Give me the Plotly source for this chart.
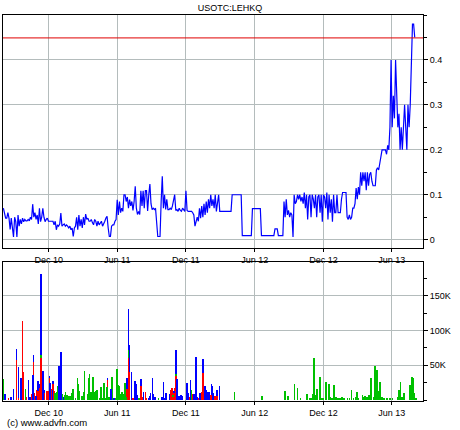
import pandas as pd
import plotly.graph_objects as go

# ---------------- data ----------------
title_text = "USOTC:LEHKQ"
footer_text = "(c) www.advfn.com"
price_start = "2010-08-02"
price_step = "3D"
price = [
    0.07, 0.055, 0.048, 0.048, 0.06, 0.048, 0.023, 0.048, 0.03, 0.006,
    0.05, 0.04, 0.006, 0.055, 0.03, 0.045, 0.035, 0.048, 0.04, 0.045,
    0.042, 0.042, 0.045, 0.042, 0.05, 0.045, 0.079, 0.05, 0.06, 0.045,
    0.055, 0.035, 0.07, 0.04, 0.05, 0.07, 0.05, 0.04, 0.045, 0.048,
    0.041, 0.041, 0.041, 0.041, 0.041, 0.033, 0.041, 0.022, 0.033, 0.03,
    0.035, 0.059, 0.03, 0.033, 0.035, 0.03, 0.033, 0.03, 0.026, 0.03,
    0.022, 0.026, 0.007, 0.026, 0.03, 0.05, 0.022, 0.055, 0.03, 0.045,
    0.026, 0.05, 0.033, 0.057, 0.045, 0.048, 0.041, 0.041, 0.045, 0.038,
    0.033, 0.045, 0.041, 0.03, 0.041, 0.033, 0.038, 0.041, 0.03, 0.038,
    0.041, 0.048, 0.052, 0.026, 0.007, 0.007, 0.03, 0.033, 0.033, 0.041,
    0.045, 0.089, 0.055, 0.085, 0.06, 0.07, 0.063, 0.1, 0.1, 0.085,
    0.095, 0.07, 0.089, 0.075, 0.085, 0.065, 0.085, 0.119, 0.07, 0.056,
    0.063, 0.056, 0.109, 0.075, 0.109, 0.07, 0.109, 0.109, 0.064, 0.1,
    0.124, 0.08, 0.067, 0.07, 0.067, 0.07, 0.045, 0.007, 0.007, 0.007,
    0.085, 0.141, 0.07, 0.1, 0.067, 0.09, 0.067, 0.067, 0.07, 0.067,
    0.075, 0.085, 0.1, 0.065, 0.067, 0.063, 0.07, 0.065, 0.063, 0.07,
    0.065, 0.063, 0.109, 0.065, 0.063, 0.063, 0.063, 0.063, 0.06, 0.055,
    0.03, 0.045, 0.05, 0.041, 0.07, 0.048, 0.075, 0.05, 0.08, 0.055,
    0.085, 0.06, 0.09, 0.07, 0.1, 0.075, 0.09, 0.07, 0.1, 0.063,
    0.08, 0.1, 0.063, 0.063, 0.063, 0.063, 0.063, 0.063, 0.063, 0.063,
    0.063, 0.063, 0.063, 0.1, 0.1, 0.1, 0.1, 0.1, 0.1, 0.1,
    0.1, 0.1, 0.009, 0.009, 0.009, 0.009, 0.009, 0.009, 0.009, 0.009,
    0.009, 0.069, 0.069, 0.069, 0.069, 0.069, 0.069, 0.069, 0.069, 0.009,
    0.009, 0.009, 0.009, 0.009, 0.009, 0.009, 0.009, 0.009, 0.009, 0.009,
    0.009, 0.024, 0.024, 0.024, 0.009, 0.009, 0.009, 0.009, 0.009, 0.085,
    0.05, 0.09, 0.055, 0.065, 0.05, 0.06, 0.055, 0.006, 0.1, 0.08,
    0.085, 0.1, 0.09, 0.1, 0.085, 0.095, 0.08, 0.105, 0.07, 0.1,
    0.045, 0.095, 0.1, 0.05, 0.1, 0.09, 0.07, 0.1, 0.05, 0.095,
    0.1, 0.06, 0.1, 0.04, 0.1, 0.095, 0.07, 0.105, 0.045, 0.1,
    0.06, 0.09, 0.04, 0.1, 0.06, 0.06, 0.1, 0.06, 0.06, 0.06,
    0.09, 0.105, 0.105, 0.105, 0.105, 0.05, 0.045, 0.055, 0.045, 0.05,
    0.07, 0.07, 0.08, 0.115, 0.09, 0.117, 0.1, 0.15, 0.12, 0.15,
    0.13, 0.15, 0.11, 0.15, 0.12, 0.145, 0.15, 0.13, 0.12, 0.12,
    0.12, 0.155, 0.16, 0.155, 0.17, 0.175, 0.2, 0.2, 0.2, 0.2,
    0.19, 0.21, 0.2, 0.25, 0.4, 0.25, 0.32, 0.27, 0.4, 0.3,
    0.25, 0.28, 0.2, 0.25, 0.2, 0.25, 0.3, 0.25, 0.2, 0.3,
    0.25, 0.3, 0.4, 0.48, 0.48, 0.45,
]
ref_price = 0.449

vol_dates = [
    "2010-08-02", "2010-08-07", "2010-08-16", "2010-08-23", "2010-08-29", "2010-09-06", "2010-09-11", "2010-09-17",
    "2010-09-22", "2010-09-24", "2010-09-30", "2010-10-02", "2010-10-08", "2010-10-12", "2010-10-17", "2010-10-19",
    "2010-10-21", "2010-10-24", "2010-10-27", "2010-10-30", "2010-11-02", "2010-11-05", "2010-11-07", "2010-11-10",
    "2010-11-13", "2010-11-15", "2010-11-19", "2010-11-26", "2010-12-01", "2010-12-03", "2010-12-05", "2010-12-09",
    "2010-12-11", "2010-12-13", "2010-12-15", "2010-12-18", "2010-12-22", "2010-12-25", "2010-12-27", "2010-12-29",
    "2011-01-02", "2011-01-04", "2011-01-06", "2011-01-09", "2011-01-12", "2011-01-14", "2011-01-19", "2011-01-22",
    "2011-01-27", "2011-01-30", "2011-02-04", "2011-02-10", "2011-02-15", "2011-02-18", "2011-02-21", "2011-02-28",
    "2011-03-03", "2011-03-06", "2011-03-14", "2011-03-17", "2011-03-19", "2011-03-23", "2011-03-28", "2011-03-30",
    "2011-04-02", "2011-04-06", "2011-04-09", "2011-04-15", "2011-04-18", "2011-04-22", "2011-04-26", "2011-04-30",
    "2011-05-04", "2011-05-06", "2011-05-10", "2011-05-16", "2011-05-19", "2011-05-24", "2011-05-29", "2011-06-01",
    "2011-06-04", "2011-06-07", "2011-06-11", "2011-06-14", "2011-06-18", "2011-06-21", "2011-06-24", "2011-06-27",
    "2011-07-01", "2011-07-04", "2011-07-09", "2011-07-12", "2011-07-15", "2011-07-19", "2011-07-21", "2011-07-23",
    "2011-07-26", "2011-07-29", "2011-08-04", "2011-08-08", "2011-08-10", "2011-08-15", "2011-08-18", "2011-08-23",
    "2011-08-26", "2011-08-29", "2011-09-03", "2011-09-06", "2011-09-09", "2011-09-19", "2011-09-28", "2011-10-02",
    "2011-10-05", "2011-10-09", "2011-10-18", "2011-10-22", "2011-10-25", "2011-10-27", "2011-10-30", "2011-11-02",
    "2011-11-05", "2011-11-08", "2011-11-12", "2011-11-17", "2011-11-22", "2011-12-03", "2011-12-06", "2011-12-09",
    "2011-12-13", "2011-12-16", "2011-12-20", "2011-12-22", "2011-12-27", "2011-12-30", "2012-01-04", "2012-01-08",
    "2012-01-13", "2012-01-16", "2012-01-18", "2012-01-21", "2012-01-24", "2012-01-26", "2012-01-31", "2012-02-03",
    "2012-02-07", "2012-02-10", "2012-02-12", "2012-02-17", "2012-02-21", "2012-02-28", "2012-04-08", "2012-06-20",
    "2012-08-21", "2012-08-28", "2012-09-15", "2012-09-23", "2012-10-01", "2012-10-19", "2012-10-26", "2012-10-31",
    "2012-11-03", "2012-11-06", "2012-11-10", "2012-11-14", "2012-11-21", "2012-11-27", "2012-12-01", "2012-12-08",
    "2012-12-15", "2012-12-19", "2012-12-23", "2012-12-30", "2013-01-03", "2013-01-08", "2013-01-14", "2013-01-20",
    "2013-01-25", "2013-02-03", "2013-02-08", "2013-02-14", "2013-02-19", "2013-02-24", "2013-03-01", "2013-03-04",
    "2013-03-15", "2013-03-18", "2013-03-22", "2013-03-27", "2013-04-01", "2013-04-07", "2013-04-13", "2013-04-18",
    "2013-04-22", "2013-04-27", "2013-05-01", "2013-05-06", "2013-05-12", "2013-05-20", "2013-05-28", "2013-06-03",
    "2013-06-18", "2013-06-20", "2013-06-24", "2013-06-28", "2013-07-04", "2013-07-20", "2013-07-23", "2013-07-25",
    "2013-07-27", "2013-07-29", "2013-07-31", "2013-08-04",
]
# volumes in thousands of shares
vol_red = [
    0, 0, 3, 0, 0, 57, 3, 0, 113, 40, 0, 4, 0, 0, 8, 0, 54, 9, 0, 14, 12, 16, 10, 60.5,
    7, 0, 9, 13, 12, 31, 0, 15, 0, 22, 13, 0, 0, 0, 0, 0, 0, 6, 0, 0, 0, 0, 0, 0,
    0, 0, 0, 0, 0, 0, 0, 0, 0, 0, 0, 0, 0, 0, 0, 0, 0, 0, 0, 0, 0, 0, 0, 0,
    0, 29, 0, 0, 0, 0, 0, 0, 0, 0, 0, 0, 0, 0, 0, 15, 60, 40, 0, 2, 3, 0, 0, 0,
    0, 0, 20, 4, 0, 11, 3, 0, 0, 0, 0, 0, 0, 0, 0, 0, 0, 0, 0, 14, 17, 4, 9, 17,
    35, 0, 0, 0, 0, 0, 0, 4, 0, 0, 8, 0, 0, 0, 3, 0, 11, 39, 11, 0, 0, 0, 0, 7,
    7, 0, 0, 5, 5, 0, 0, 0,
    0, 0, 0, 0, 0, 0, 0, 0, 0, 0, 0, 0, 0, 0, 0, 0, 0, 0, 0, 0, 0, 0, 0, 0,
    0, 0, 0, 0, 0, 0, 0, 0, 0, 0, 0, 0, 0, 0, 0, 0, 0, 0, 0, 0, 0, 0, 0, 0,
    0, 0, 0, 0, 0, 0, 0, 0, 0, 0, 0, 0,
]
vol_green = [
    30, 0, 0, 0, 0, 0, 0, 0, 0, 0, 15, 0, 0, 0, 0, 0, 0, 0, 0, 0, 0, 0, 0, 3.8,
    0, 0, 0, 0, 0, 0, 0, 0, 0, 0, 0, 9, 11, 20, 46, 0, 0, 0, 8, 0, 7, 11, 7, 5,
    5, 10, 15, 3, 31, 23, 12, 5, 11, 41, 8, 31, 37, 11, 32, 5, 11, 13, 14, 3, 18, 3, 24, 3,
    18, 0, 4, 0, 33, 0, 3, 44, 21, 20, 8, 11, 8, 24, 4, 0, 12, 0, 0, 0, 0, 0, 0, 0,
    2, 3, 0, 0, 0, 0, 0, 0, 0, 0, 0, 0, 0, 3, 0, 0, 0, 0, 0, 0, 0, 3, 0, 0,
    2, 0, 0, 0, 0, 0, 0, 0, 0, 14, 0, 0, 0, 0, 0, 0, 0, 0, 0, 0, 0, 0, 0, 0,
    0, 0, 0, 0, 0, 0, 11, 5,
    12.5, 5, 22.5, 17, 2, 8, 3, 3, 8, 59.5, 6, 15, 32.7, 2, 1, 25.5, 22.6, 4, 2, 21, 4, 1, 2, 4,
    2, 1.5, 2, 14, 2, 4, 11.5, 2, 7, 4, 5, 4, 6, 31.7, 4, 49, 42.8, 12.5, 26, 4, 2, 2, 2, 2,
    4, 14, 25, 4, 9, 21, 29, 33, 30.7, 18.7, 9, 2,
]
vol_blue = [
    0, 7.7, 0, 4, 15, 16, 44, 31, 0, 0, 0, 0, 28, 4, 0, 35, 10, 0, 5, 0, 15, 6, 0, 116,
    0, 41, 5, 0, 0, 3, 24, 0, 14, 5, 0, 0, 0, 0, 0, 49, 68, 0, 0, 4, 0, 0, 0, 0,
    0, 0, 0, 0, 0, 0, 0, 0, 0, 0, 0, 0, 0, 0, 0, 0, 0, 0, 0, 0, 0, 0, 0, 0,
    0, 1, 0, 15, 0, 2, 0, 0, 0, 0, 0, 0, 0, 0, 0, 16, 59, 39, 40, 0, 0, 27, 23, 7,
    0, 0, 10, 0, 11, 0, 0, 3, 5, 9, 31, 8, 4, 0, 4, 26, 3, 9, 8, 0, 0, 0, 3, 0,
    35, 30, 5, 6, 5, 24, 10, 0, 28, 0, 0, 8, 61, 4, 0, 10, 0, 20, 0, 20, 14, 11, 11, 0,
    15, 20, 9, 0, 9, 20, 0, 0,
    0, 0, 0, 0, 0, 0, 0, 0, 0, 0, 0, 0, 0, 0, 0, 0, 0, 0, 0, 0, 0, 0, 0, 0,
    0, 0, 0, 0, 0, 0, 0, 0, 0, 0, 0, 0, 0, 0, 0, 0, 0, 0, 0, 0, 0, 0, 0, 0,
    0, 0, 0, 0, 0, 0, 0, 0, 0, 0, 0, 0,
]

x_tick_dates = ["2010-12-01", "2011-06-01", "2011-12-01", "2012-06-01", "2012-12-01", "2013-06-01"]
x_tick_labels = ["Dec 10", "Jun 11", "Dec 11", "Jun 12", "Dec 12", "Jun 13"]
price_ticks = [0, 0.1, 0.2, 0.3, 0.4]
price_tick_labels = ["0", "0.1", "0.2", "0.3", "0.4"]
vol_ticks = [50, 100, 150]
vol_tick_labels = ["50K", "100K", "150K"]

# ---------------- figure ----------------
price_dates = pd.date_range(price_start, periods=len(price), freq=price_step)
FONT = "Liberation Sans, Arial, sans-serif"
GRID = "#b4bcbc"
x_range = ["2010-08-01", "2013-08-23"]
bar_w = 1.9 * 86400000

fig = go.Figure()
fig.add_trace(go.Scatter(x=price_dates, y=price, mode="lines",
                         line=dict(color="#0000ff", width=1.2),
                         xaxis="x", yaxis="y", showlegend=False))
fig.add_shape(type="line", xref="x domain", yref="y", x0=0, x1=1,
              y0=ref_price, y1=ref_price, line=dict(color="#e00000", width=1))

for vals, col in ((vol_red, "#ff0000"), (vol_green, "#00c000"), (vol_blue, "#0000ff")):
    fig.add_trace(go.Bar(x=pd.to_datetime(vol_dates), y=vals, width=bar_w,
                         marker=dict(color=col, line=dict(width=0)),
                         xaxis="x2", yaxis="y2", showlegend=False))

xcommon = dict(range=x_range, type="date", tickvals=x_tick_dates, ticktext=x_tick_labels,
               showgrid=True, gridcolor=GRID, gridwidth=1, showline=True, linecolor="black",
               linewidth=1, mirror=True, ticks="outside", ticklen=3, tickcolor="black",
               tickfont=dict(family=FONT, size=9, color="black"), zeroline=False)

fig.update_layout(
    width=460, height=430,
    margin=dict(l=3, r=37, t=15, b=29),
    paper_bgcolor="white", plot_bgcolor="white",
    barmode="stack", bargap=0,
    title=dict(text=title_text, x=0.5, xref="container", y=1 - 8 / 430, yref="container",
               xanchor="center", yanchor="middle",
               font=dict(family=FONT, size=9, color="black")),
    xaxis=dict(domain=[0, 1], anchor="y", **xcommon),
    xaxis2=dict(domain=[0, 1], anchor="y2", matches="x", **xcommon),
    yaxis=dict(domain=[0.397, 1], anchor="x", side="right", range=[-0.018, 0.5],
               tickvals=price_ticks, ticktext=price_tick_labels,
               showgrid=True, gridcolor=GRID, zeroline=False,
               showline=True, linecolor="black", linewidth=1, mirror=True,
               ticks="outside", ticklen=4, tickcolor="black",
               minor=dict(dtick=0.05, ticks="outside", ticklen=3, tickcolor="black", showgrid=False),
               tickfont=dict(family=FONT, size=9, color="black")),
    yaxis2=dict(domain=[0, 0.359], anchor="x2", side="right", range=[-1.4, 198],
                tickvals=vol_ticks, ticktext=vol_tick_labels,
                showgrid=True, gridcolor=GRID, zeroline=False,
                showline=True, linecolor="black", linewidth=1, mirror=True,
                ticks="outside", ticklen=4, tickcolor="black",
                minor=dict(dtick=25, ticks="outside", ticklen=3, tickcolor="black", showgrid=False),
                tickfont=dict(family=FONT, size=9, color="black")),
    yaxis3=dict(overlaying="y", side="left", range=[-0.018, 0.5], anchor="x",
                tickvals=price_ticks, showticklabels=False, showgrid=False, zeroline=False,
                ticks="inside", ticklen=4, tickcolor="black",
                minor=dict(dtick=0.05, ticks="inside", ticklen=4, tickcolor="black")),
    yaxis4=dict(overlaying="y2", side="left", range=[-1.4, 198], anchor="x2",
                tickvals=vol_ticks, showticklabels=False, showgrid=False, zeroline=False,
                ticks="inside", ticklen=4, tickcolor="black",
                minor=dict(dtick=25, ticks="inside", ticklen=4, tickcolor="black")),
    annotations=[dict(text=footer_text, xref="paper", yref="paper", x=(5 - 3) / 420,
                      y=(401 - 422.7) / 386, xanchor="left", yanchor="middle",
                      showarrow=False, font=dict(family=FONT, size=9.5, color="black"))],
)

fig.write_html("out.html", config={"displayModeBar": False},
               post_script="document.body.style.margin='0px';")
